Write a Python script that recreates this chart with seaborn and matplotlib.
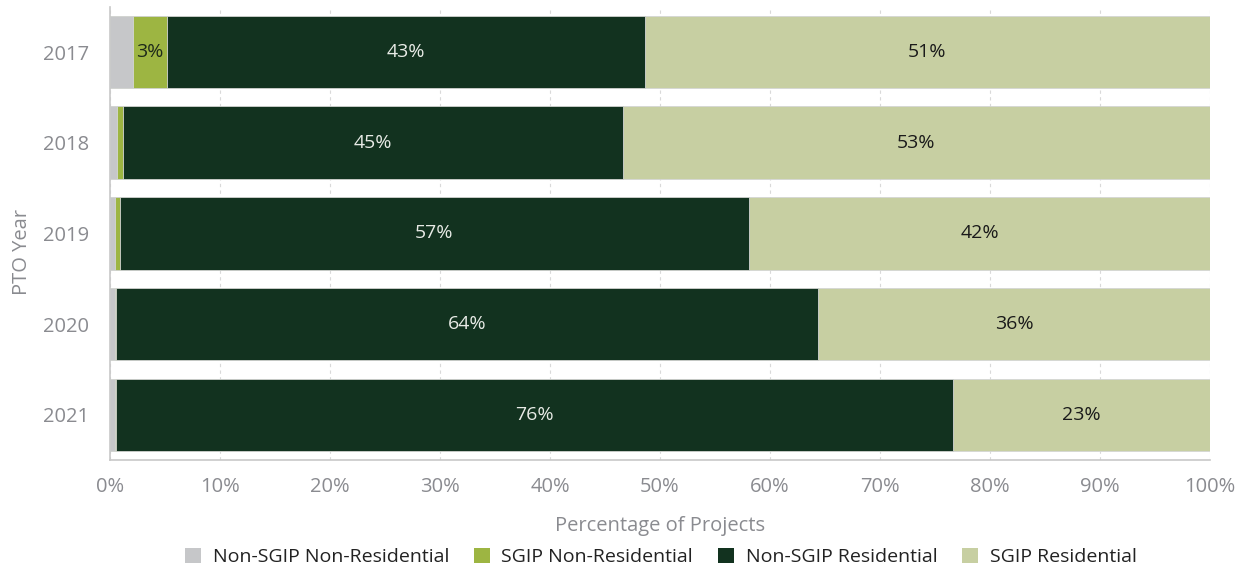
import numpy as np
import pandas as pd
import matplotlib
matplotlib.use("Agg")
import matplotlib.pyplot as plt
import seaborn as sns
from matplotlib.patches import Patch

years = ["2017", "2018", "2019", "2020", "2021"]
series_names = ["Non-SGIP Non-Residential", "SGIP Non-Residential",
                "Non-SGIP Residential", "SGIP Residential"]
non_sgip_non_res = [2.1, 0.6, 0.5, 0.45, 0.5]
sgip_non_res = [3.1, 0.6, 0.4, 0.1, 0.05]
non_sgip_res = [43.4, 45.4, 57.2, 63.8, 76.1]
sgip_res = [51.4, 53.4, 41.9, 35.65, 23.35]
x_ticks = [0, 10, 20, 30, 40, 50, 60, 70, 80, 90, 100]

colors = ["#c6c7c9", "#9db542", "#12321f", "#c7cfa2"]
label_colors = [None, "#1e2a1a", "#e8ebe6", "#1a1a1a"]

sns.set_theme(style="white")
plt.rcParams["font.family"] = ["Open Sans", "DejaVu Sans"]

values = np.array([non_sgip_non_res, sgip_non_res, non_sgip_res, sgip_res])
cum = np.cumsum(values, axis=0)
starts = cum - values

fig = plt.figure(figsize=(12.47, 5.71), dpi=100)
ax = fig.add_axes([0.0882, 0.1939, 0.8821, 0.7944])

# stacked bars: draw cumulative totals from the outermost segment inwards
for i in range(len(series_names) - 1, -1, -1):
    df = pd.DataFrame({"year": years, "total": cum[i]})
    sns.barplot(data=df, x="total", y="year", orient="h", color=colors[i],
                width=0.8, edgecolor="#d4d6d4", linewidth=0.6,
                saturation=1, ax=ax, zorder=2)

# value labels at segment centres
for i in range(len(series_names)):
    for j in range(len(years)):
        v = values[i, j]
        if v >= 2.5:
            ax.text(starts[i, j] + v / 2, j, f"{round(v)}%", ha="center",
                    va="center", fontsize=14, color=label_colors[i], zorder=3)

ax.set_xlim(0, 100)
ax.set_ylim(4.5, -0.5)
ax.set_xticks(x_ticks)
ax.set_xticklabels([f"{t}%" for t in x_ticks])
ax.xaxis.grid(True, linestyle=(0, (3, 3)), color="#d9d9d9", linewidth=0.8)
ax.set_axisbelow(True)
for side in ["top", "right"]:
    ax.spines[side].set_visible(False)
for side in ["left", "bottom"]:
    ax.spines[side].set_color("#c8c8c8")
    ax.spines[side].set_linewidth(1.2)
ax.tick_params(axis="both", colors="#8a8b90", labelsize=14.5, length=0, pad=12)
ax.tick_params(axis="y", pad=15)
ax.set_xlabel("Percentage of Projects", fontsize=14.5, color="#8a8b90", labelpad=14)
ax.set_ylabel("PTO Year", fontsize=14.5, color="#8a8b90", labelpad=12)
ax.yaxis.set_label_coords(-0.071, 0.46)

handles = [Patch(facecolor=c, edgecolor="none") for c in colors]
fig.legend(handles, series_names, loc="lower center", ncol=4,
           bbox_to_anchor=(0.53, -0.022), frameon=False, fontsize=14,
           handlelength=0.8, handleheight=0.8, handletextpad=0.6,
           columnspacing=1.3, labelcolor="#222222")

fig.savefig("out.png", dpi=100)
